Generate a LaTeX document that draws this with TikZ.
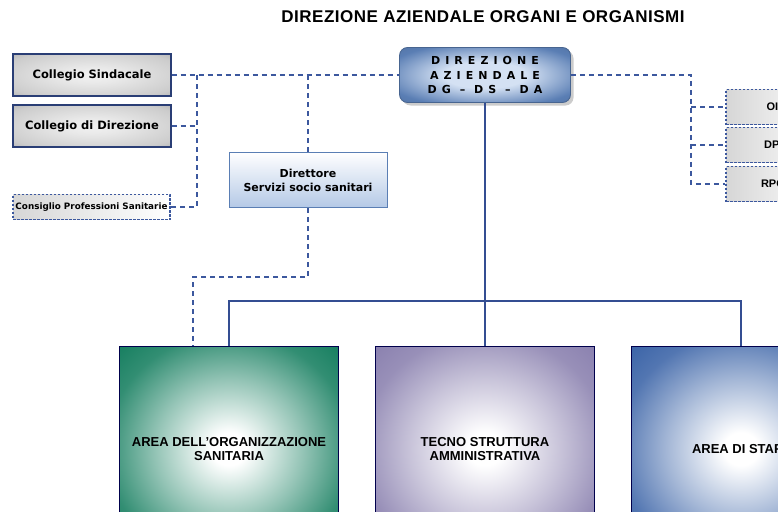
\documentclass[tikz,border=0pt]{standalone}
\usepackage{fontspec}
\setmainfont{Liberation Sans}
\newfontfamily\boxfont{DejaVu Sans}
\newfontfamily\spacedfont[LetterSpace=46]{DejaVu Sans}
\newfontfamily\titlefont[LetterSpace=3]{Liberation Sans}
\usepackage{xcolor}
\definecolor{line1}{RGB}{52,78,146}
\definecolor{dash1}{RGB}{60,88,158}
\definecolor{areagreen}{RGB}{14,122,90}
\definecolor{areapurple}{RGB}{134,124,172}
\definecolor{areablue}{RGB}{52,94,164}
\definecolor{dirblue}{RGB}{90,126,180}
\definecolor{dirlight}{RGB}{212,225,243}
\colorlet{greenmid}{areagreen!45!white}
\colorlet{greenrim}{areagreen!85!white}
\colorlet{purplemid}{areapurple!45!white}
\colorlet{purplerim}{areapurple!85!white}
\colorlet{bluemid}{areablue!45!white}
\colorlet{bluerim}{areablue!85!white}
\colorlet{dirdark}{dirblue!88!black}
\colorlet{greymid}{black!20}
\colorlet{greydark}{black!36}
\usetikzlibrary{positioning,shadows,calc}
\pgfdeclareradialshading{greenglow}{\pgfpointorigin}{color(0bp)=(white);color(4bp)=(white);color(17bp)=(greenmid);color(28bp)=(greenrim);color(38bp)=(areagreen);color(71bp)=(areagreen)}
\pgfdeclareradialshading{purpleglow}{\pgfpointorigin}{color(0bp)=(white);color(4bp)=(white);color(17bp)=(purplemid);color(28bp)=(purplerim);color(38bp)=(areapurple);color(71bp)=(areapurple)}
\pgfdeclareradialshading{blueglow}{\pgfpointorigin}{color(0bp)=(white);color(4bp)=(white);color(17bp)=(bluemid);color(28bp)=(bluerim);color(38bp)=(areablue);color(71bp)=(areablue)}
\pgfdeclareradialshading{dirglow}{\pgfpointorigin}{color(0bp)=(dirlight);color(12bp)=(dirlight);color(30bp)=(dirblue);color(40bp)=(dirdark);color(71bp)=(dirdark)}
\pgfdeclareradialshading{greyglow}{\pgfpointorigin}{color(0bp)=(black!5);color(10bp)=(black!9);color(30bp)=(greymid);color(42bp)=(greydark);color(71bp)=(greydark)}
\newcommand{\dsh}[2]{\draw[dashline] (#1) -- (#2)}

\begin{document}
\begin{tikzpicture}[
      x=1pt,y=-1pt,
      dashline/.style={draw=dash1,line width=1.3pt,dash pattern=on 5pt off 4pt},
      solidline/.style={draw=line1,line width=1.4pt},
      organo/.style={rectangle,inner sep=0pt,minimum width=158,minimum height=42,draw=line1!80!black,line width=1.2pt,shading=greyglow,font=\boxfont\bfseries\fontsize{11.5}{13}\selectfont},
      dotbox/.style={rectangle,inner sep=0pt,draw=dash1,line width=1.4pt,dash pattern=on 2.5pt off 1.5pt,left color=black!16,right color=white},
      area/.style={rectangle,inner sep=0pt,minimum width=219,minimum height=206,draw=black!70!blue,line width=0.8pt,align=center,font=\bfseries\fontsize{13}{14}\selectfont}]

      \useasboundingbox (0,0) rectangle (778,511);
      \clip (0,0) rectangle (778,511);

      % Define nodes
      \node[font=\titlefont\bfseries\fontsize{17}{18}\selectfont] (title) at (483,17) {DIREZIONE AZIENDALE ORGANI E ORGANISMI};

      \node[organo] (cs) at (92,75) {Collegio Sindacale};
      \node[organo] (cd) at (92,126) {Collegio di Direzione};
      \node[dotbox,minimum width=157,minimum height=25,font=\boxfont\bfseries\fontsize{8.8}{10}\selectfont] (cps) at (91.5,207) {Consiglio Professioni Sanitarie};

      \node[rectangle,inner sep=0pt,minimum width=158,minimum height=55,draw=dirblue,line width=1pt,top color=white,bottom color={rgb,255:red,180;green,200;blue,230},align=center,font=\boxfont\bfseries\fontsize{11}{14}\selectfont] (dss) at (308,180) {Direttore\\Servizi socio sanitari};

      \node[rectangle,rounded corners=8pt,inner sep=0pt,minimum width=171,minimum height=55,draw=dirblue!80!black,line width=0.8pt,shading=dirglow,drop shadow={shadow xshift=3pt,shadow yshift=-3pt,opacity=0.4},align=center,font=\spacedfont\bfseries\fontsize{11}{14.5}\selectfont] (dir) at (485,75) {DIREZIONE\\AZIENDALE\\DG\ –\ DS\ –\ DA};

      \node[dotbox,minimum width=100,minimum height=35,font=\bfseries\fontsize{11}{13}\selectfont] (oiv) at (776,107) {OIV};
      \node[dotbox,minimum width=100,minimum height=35,font=\bfseries\fontsize{11}{13}\selectfont] (dpo) at (776,145) {DPO};
      \node[dotbox,minimum width=100,minimum height=35,font=\bfseries\fontsize{11}{13}\selectfont] (rpct) at (776,184) {RPCT};

      \node[area,shading=greenglow] (aos) at (229,449) {AREA DELL'ORGANIZZAZIONE\\SANITARIA};
      \node[area,shading=purpleglow] (tsa) at (485,449) {TECNO STRUTTURA\\AMMINISTRATIVA};
      \node[area,shading=blueglow] (stf) at (741,449) {AREA DI STAFF};

      \coordinate (lbus) at (197,75);
      \coordinate (kink) at (193,277);
      \coordinate (rbus) at (691,75);
      \coordinate (hub) at (485,301);

      % Draw paths
      \draw[solidline] (dir.south) -- (hub);
      \draw[solidline] (aos.north) |- (hub) -| (stf.north);
      \draw[solidline] (hub) -- (tsa.north);

      \dsh{cs.east}{dir.west};
      \dsh{cd.east}{cd.east -| lbus};
      \draw[dashline] (lbus) |- (cps.east);
      \draw[dashline] (dss.north |- cs.east) -- (dss.north);
      \draw[dashline] (dss.south) |- (kink) -- (kink |- aos.north);
      \draw[dashline] (dir.east) -| (rbus |- rpct.west) -- (rpct.west);
      \dsh{rbus |- oiv.west}{oiv.west};
      \dsh{rbus |- dpo.west}{dpo.west};

  \end{tikzpicture}
\end{document}
